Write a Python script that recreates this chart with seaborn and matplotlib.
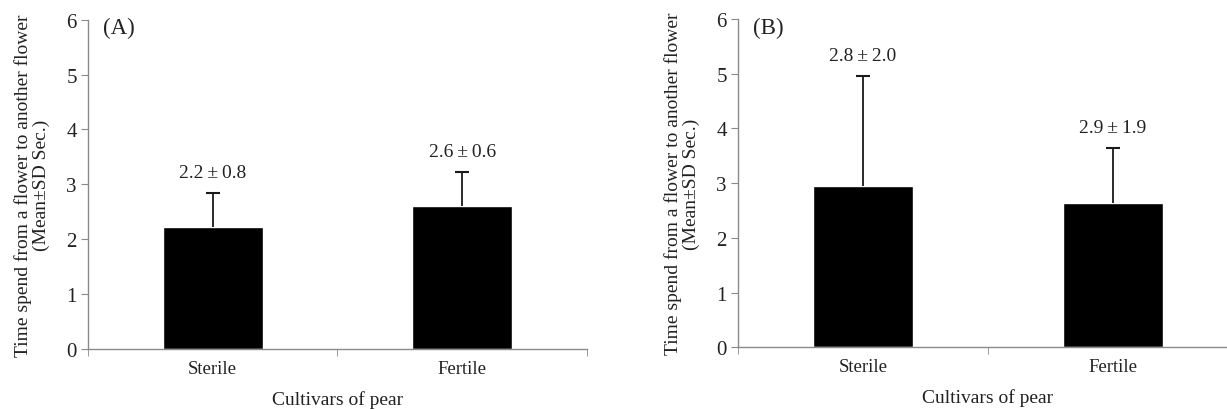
import pandas as pd
import matplotlib.pyplot as plt
import seaborn as sns
import numpy as np

# data
cultivars = ['Sterile', 'Fertile']
means_a = [2.22, 2.60]
sd_a = [0.62, 0.62]
labels_a = ['2.2\u2009\u00b1\u20090.8', '2.6\u2009\u00b1\u20090.6']
means_b = [2.95, 2.63]
sd_b = [2.0, 1.01]
labels_b = ['2.8\u2009\u00b1\u20092.0', '2.9\u2009\u00b1\u20091.9']
panels = ['(A)', '(B)']

sns.set_style('white')
plt.rcParams['font.family'] = ['Liberation Serif', 'DejaVu Serif']
plt.rcParams['font.size'] = 14

fig = plt.figure(figsize=(12.27, 4.1), dpi=100)
ax_a = fig.add_axes([0.0717, 0.1463, 0.4067, 0.8032])
ax_b = fig.add_axes([0.6015, 0.1505, 0.4075, 0.8007])

grey = '#8a8a8a'
txt = '#222222'


def draw_panel(ax, means, sds, labels, tag):
    df = pd.DataFrame({'cultivar': cultivars, 'mean': means})
    sns.barplot(data=df, x='cultivar', y='mean', color='black', saturation=1,
                width=0.4, errorbar=None, ax=ax)
    x = np.arange(len(cultivars))
    eb = ax.errorbar(x, means, yerr=[np.zeros(len(sds)), sds], fmt='none',
                     ecolor='#1a1a1a', elinewidth=1.3, capsize=5, capthick=1.5)
    # only the upper cap is shown
    eb[1][0].set_visible(False)
    for xi, m, s, lab in zip(x, means, sds, labels):
        ax.text(xi, m + s + 0.23, lab, ha='center', va='bottom', color=txt, fontsize=14)

    ax.set_xlim(-0.5, 1.5)
    ax.set_ylim(0, 6)
    ax.set_yticks(range(7))
    ax.set_xticks(x)
    ax.set_xticks([-0.5, 0.5, 1.5], minor=True)
    ax.tick_params(axis='x', which='major', length=0, pad=8, labelcolor=txt, labelsize=13.5)
    ax.tick_params(axis='x', which='minor', length=5, color=grey, direction='out', bottom=True)
    ax.tick_params(axis='y', length=5, color=grey, direction='out', left=True,
                   labelcolor=txt, labelsize=15, pad=3)
    for side in ['top', 'right']:
        ax.spines[side].set_visible(False)
    for side in ['left', 'bottom']:
        ax.spines[side].set_color(grey)
        ax.spines[side].set_linewidth(1.0)
    ax.set_xlabel('Cultivars of pear', color=txt, fontsize=14, labelpad=9)
    ax.set_ylabel('Time spend from a flower to another flower\n(Mean\u00b1SD Sec.)',
                  color=txt, fontsize=14, labelpad=12, linespacing=1.0)
    ax.text(0.03, 0.975, tag, transform=ax.transAxes, ha='left', va='center',
            color=txt, fontsize=16.5)


draw_panel(ax_a, means_a, sd_a, labels_a, panels[0])
draw_panel(ax_b, means_b, sd_b, labels_b, panels[1])

fig.savefig('out.png', dpi=100)
